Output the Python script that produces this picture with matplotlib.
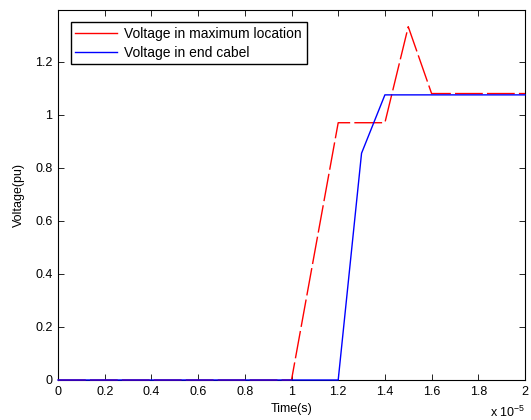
import numpy as np
import matplotlib
matplotlib.use("Agg")
import matplotlib.pyplot as plt
from matplotlib.lines import Line2D

plt.rcParams['font.family'] = ['Liberation Sans', 'DejaVu Sans']
plt.rcParams['mathtext.default'] = 'regular'
plt.rcParams['lines.scale_dashes'] = False

# time in units of 1e-5 s
t_max = [0.0, 1.0, 1.2, 1.4, 1.5, 1.6, 2.0]
v_max = [0.0, 0.0, 0.97, 0.97, 1.332, 1.08, 1.08]

t_end = [0.0, 1.2, 1.3, 1.4, 2.0]
v_end = [0.0, 0.0, 0.855, 1.075, 1.075]

labels = ['Voltage in maximum location', 'Voltage in end cabel']
xticks = np.arange(0, 2.01, 0.2)
yticks = np.arange(0, 1.21, 0.2)

fig = plt.figure(figsize=(5.31, 4.20), dpi=100)
ax = fig.add_axes([58/531, 40/420, (525-58)/531, (380-10)/420])

ax.plot(t_max, v_max, color='red', lw=1.0, dashes=(20, 3), zorder=3, clip_on=False)
ax.plot(t_end, v_end, color='blue', lw=1.0, zorder=4, clip_on=False)

ax.set_xlim(0, 2)
ax.set_ylim(0, 1.395)
ax.set_xticks(xticks)
ax.set_xticklabels(['%g' % v for v in xticks])
ax.set_yticks(yticks)
ax.set_yticklabels(['%g' % v for v in yticks])
ax.tick_params(direction='in', length=4, width=0.6, top=True, right=True,
               labelsize=9, pad=4)
for s in ax.spines.values():
    s.set_linewidth(0.8)

ax.set_xlabel('Time(s)', fontsize=9, labelpad=4)
ax.set_ylabel('Voltage(pu)', fontsize=9, labelpad=7)
ax.text(1.0, -0.068, r'x 10$^{-5}$', transform=ax.transAxes, ha='right',
        va='top', fontsize=9)

handles = [Line2D([], [], color='red', lw=1.0),
           Line2D([], [], color='blue', lw=1.0)]
leg = ax.legend(handles, labels, loc='upper left', fontsize=10,
                bbox_to_anchor=(0.012, 0.985), fancybox=False,
                edgecolor='black', framealpha=1, handlelength=3.0,
                borderpad=0.35, labelspacing=0.3, handletextpad=0.5)
leg.get_frame().set_linewidth(1.0)

fig.savefig('out.png', dpi=100)
